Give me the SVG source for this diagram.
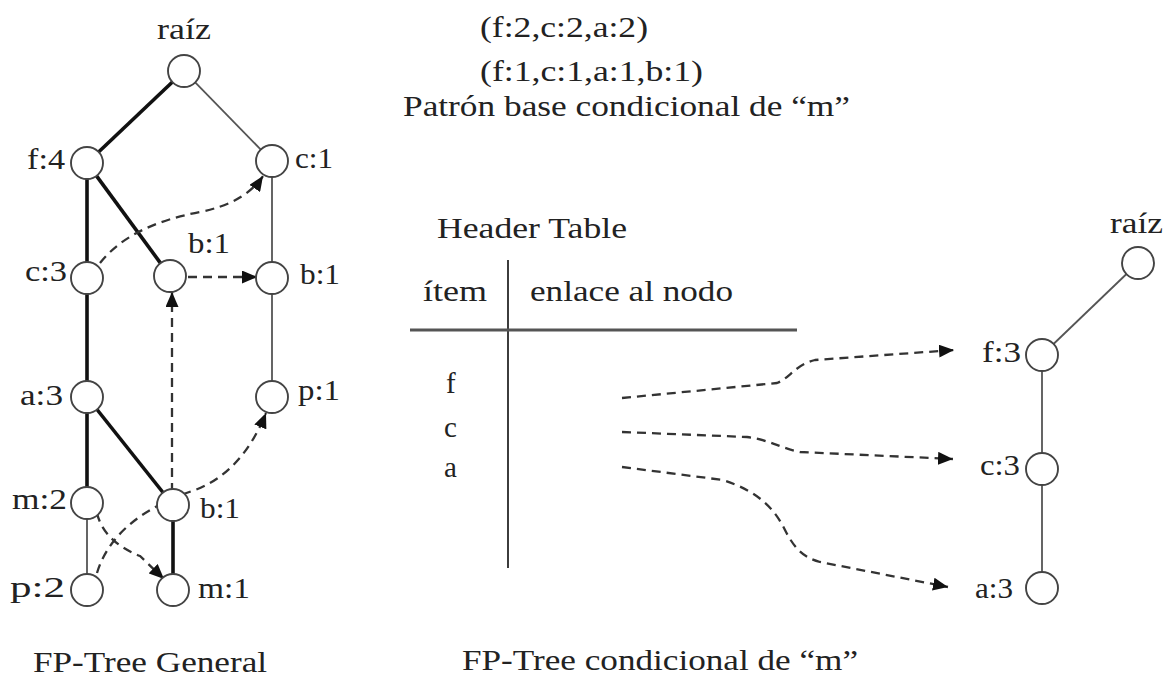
<svg xmlns="http://www.w3.org/2000/svg" width="1174" height="680" viewBox="0 0 1174 680">
<style>
text{font-family:"Liberation Serif","Times New Roman",serif;font-size:29px;fill:#222}
.t{font-size:29px}
.big{font-size:30px}
.n{fill:#fff;stroke:#444;stroke-width:1.9}
.thick{stroke:#111;stroke-width:3.6;fill:none}
.thin{stroke:#555;stroke-width:1.8;fill:none}
.dash{stroke:#333;stroke-width:2.3;stroke-dasharray:9 6;fill:none;marker-end:url(#ah)}
.rule{stroke:#555;stroke-width:2.8}
.vrule{stroke:#333;stroke-width:1.9}
</style>
<defs>
<marker id="ah" markerUnits="userSpaceOnUse" markerWidth="15" markerHeight="13" refX="15" refY="6.5" orient="auto">
<path d="M0,0 L15,6.5 L0,13 z" fill="#111"/>
</marker>
</defs>
<rect width="1174" height="680" fill="#fff"/>
<g id="connectors">
<line class="thick" x1="172.4" y1="82" x2="98.6" y2="152"/>
<line class="thin" x1="195.2" y1="82.4" x2="260.8" y2="149.6"/>
<line class="thick" x1="87" y1="179" x2="87" y2="262"/>
<line class="thick" x1="96.5" y1="175.9" x2="160.5" y2="263.1"/>
<line class="thin" x1="272" y1="177" x2="272" y2="262"/>
<line class="thick" x1="87" y1="294" x2="87" y2="381"/>
<line class="thin" x1="272" y1="294" x2="272" y2="381"/>
<line class="thick" x1="87" y1="413" x2="87" y2="487"/>
<line class="thick" x1="97" y1="409.5" x2="163" y2="492.5"/>
<line class="thin" x1="87" y1="519" x2="87" y2="574"/>
<line class="thick" x1="173" y1="521" x2="173" y2="574"/>
<line class="thin" x1="1126.5" y1="274" x2="1053.5" y2="344"/>
<line class="thin" x1="1042" y1="371" x2="1042" y2="453"/>
<line class="thin" x1="1042" y1="485" x2="1042" y2="572"/>
<path class="dash" d="M100,263 Q130,225 200,212 Q245,203 263,176"/>
<path class="dash" d="M188,277 L257,277"/>
<path class="dash" d="M172,492 L172,292"/>
<path class="dash" d="M97,573 C110,530 150,505 195,490 C235,475 255,440 266,413"/>
<path class="dash" d="M97,513 C102,535 120,548 140,556 L164,579"/>
<path class="dash" d="M622,398 L777,383 C790,378 795,365 815,360 L954,350"/>
<path class="dash" d="M622,432 L747,437 C770,440 780,448 800,452 L953,459"/>
<path class="dash" d="M622,467 L723,480 C760,492 775,510 785,530 C795,550 805,558 820,562 L948,587"/>
</g>
<g id="tree-general">
<g id="n-raiz1"><circle class="n" cx="184" cy="71" r="16"/><text x="157" y="39" textLength="54" lengthAdjust="spacingAndGlyphs">raíz</text></g>
<g id="n-f4"><circle class="n" cx="87" cy="163" r="16"/><text x="27" y="169" textLength="38" lengthAdjust="spacingAndGlyphs">f:4</text></g>
<g id="n-c1"><circle class="n" cx="272" cy="161" r="16"/><text x="295" y="168" textLength="38" lengthAdjust="spacingAndGlyphs">c:1</text></g>
<g id="n-c3"><circle class="n" cx="87" cy="278" r="16"/><text x="25" y="281" textLength="42" lengthAdjust="spacingAndGlyphs">c:3</text></g>
<g id="n-b1a"><circle class="n" cx="170" cy="276" r="16"/><text x="188" y="253" textLength="42" lengthAdjust="spacingAndGlyphs">b:1</text></g>
<g id="n-b1b"><circle class="n" cx="272" cy="278" r="16"/><text x="300" y="284" textLength="40" lengthAdjust="spacingAndGlyphs">b:1</text></g>
<g id="n-a3"><circle class="n" cx="87" cy="397" r="16"/><text x="20" y="405" textLength="43" lengthAdjust="spacingAndGlyphs">a:3</text></g>
<g id="n-p1"><circle class="n" cx="272" cy="397" r="16"/><text x="298" y="400" textLength="42" lengthAdjust="spacingAndGlyphs">p:1</text></g>
<g id="n-m2"><circle class="n" cx="87" cy="503" r="16"/><text x="12" y="509" textLength="55" lengthAdjust="spacingAndGlyphs">m:2</text></g>
<g id="n-b1c"><circle class="n" cx="173" cy="505" r="16"/><text x="200" y="518" textLength="40" lengthAdjust="spacingAndGlyphs">b:1</text></g>
<g id="n-p2"><circle class="n" cx="87" cy="590" r="16"/><text x="10" y="597" textLength="55" lengthAdjust="spacingAndGlyphs">p:2</text></g>
<g id="n-m1"><circle class="n" cx="173" cy="590" r="16"/><text x="198" y="598" textLength="52" lengthAdjust="spacingAndGlyphs">m:1</text></g>
<text class="big" x="33" y="672" textLength="234" lengthAdjust="spacingAndGlyphs">FP-Tree General</text>
</g>
<g id="pattern">
<text class="t" x="480" y="37" textLength="168" lengthAdjust="spacingAndGlyphs">(f:2,c:2,a:2)</text>
<text class="t" x="480" y="81" textLength="223" lengthAdjust="spacingAndGlyphs">(f:1,c:1,a:1,b:1)</text>
<text class="t" x="403" y="116" textLength="447" lengthAdjust="spacingAndGlyphs">Patrón base condicional de “m”</text>
</g>
<g id="header-table">
<text class="t" x="437" y="238" textLength="190" lengthAdjust="spacingAndGlyphs">Header Table</text>
<line class="vrule" x1="508" y1="260" x2="508" y2="568"/>
<line class="rule" x1="410" y1="330" x2="797" y2="330"/>
<text class="t" x="423" y="301" textLength="64" lengthAdjust="spacingAndGlyphs">ítem</text>
<text class="t" x="530" y="301" textLength="203" lengthAdjust="spacingAndGlyphs">enlace al nodo</text>
<text class="t" x="446" y="393">f</text>
<text class="t" x="444" y="437">c</text>
<text class="t" x="444" y="477">a</text>
</g>
<g id="tree-cond">
<g id="r-raiz"><circle class="n" cx="1138" cy="263" r="16"/><text x="1110" y="233" textLength="53" lengthAdjust="spacingAndGlyphs">raíz</text></g>
<g id="r-f3"><circle class="n" cx="1042" cy="355" r="16"/><text x="982" y="362" textLength="39" lengthAdjust="spacingAndGlyphs">f:3</text></g>
<g id="r-c3"><circle class="n" cx="1042" cy="469" r="16"/><text x="980" y="475" textLength="40" lengthAdjust="spacingAndGlyphs">c:3</text></g>
<g id="r-a3"><circle class="n" cx="1042" cy="588" r="16"/><text x="975" y="598" textLength="38" lengthAdjust="spacingAndGlyphs">a:3</text></g>
<text class="big" x="462" y="670" textLength="396" lengthAdjust="spacingAndGlyphs">FP-Tree condicional de “m”</text>
</g>
</svg>
